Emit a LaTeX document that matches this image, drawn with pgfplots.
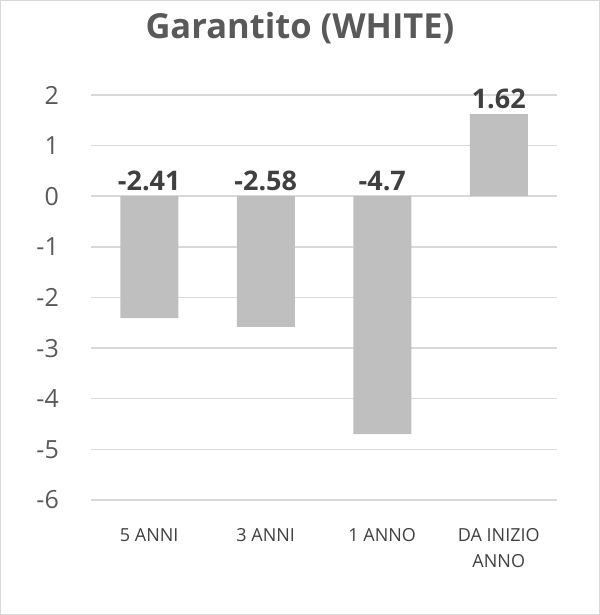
\documentclass[border=0pt]{standalone}
\usepackage{pgfplots}
\pgfplotsset{compat=1.18}
\usepackage{fontspec}
\setmainfont{Open Sans}
\definecolor{barc}{HTML}{BFBFBF}
\definecolor{gridc}{HTML}{D9D9D9}
\definecolor{tickc}{HTML}{595959}
\definecolor{labc}{HTML}{404040}
\begin{document}
\begin{tikzpicture}[x=1bp,y=1bp]
\useasboundingbox (0,0) rectangle (600,615);
\draw[gridc, line width=1bp] (0.5,0.5) rectangle (599.5,614.5);
\node[text=tickc, font=\fontsize{34.5bp}{38bp}\selectfont\bfseries, anchor=center] at (300,587) {Garantito (WHITE)};
\begin{axis}[
  at={(91bp,115bp)}, anchor=south west,
  scale only axis, width=466bp, height=405bp,
  xmin=-0.5, xmax=3.5, ymin=-6, ymax=2,
  axis line style={draw=none},
  ytick={-6,-5,-4,-3,-2,-1,0,1,2},
  ymajorgrids, major grid style={gridc, line width=1.5bp},
  major tick length=0pt,
  xtick={0,1,2,3},
  xticklabels={5 ANNI, 3 ANNI, 1 ANNO, {DA INIZIO\\ANNO}},
  xticklabel style={text=labc, font=\fontsize{18bp}{26bp}\selectfont, align=center, anchor=north, inner sep=0pt, yshift=-28bp},
  yticklabel style={text=tickc, font=\fontsize{25bp}{30bp}\selectfont, anchor=east, inner sep=0pt, xshift=-32bp},
  /pgf/number format/assume math mode=true,
  clip=false,
]
\addplot[ybar, bar width=58bp, fill=barc, draw=none] coordinates {(0,-2.41) (1,-2.58) (2,-4.7) (3,1.62)};
\addplot[draw=none, mark=none, nodes near coords, point meta=explicit symbolic,
  every node near coord/.append style={text=labc, font=\fontsize{27bp}{30bp}\selectfont\bfseries, anchor=south, inner sep=0pt, yshift=5bp}]
  coordinates {(0,0)[-2.41] (1,0)[-2.58] (2,0)[-4.7] (3,1.62)[1.62]};
\end{axis}
\end{tikzpicture}
\end{document}
